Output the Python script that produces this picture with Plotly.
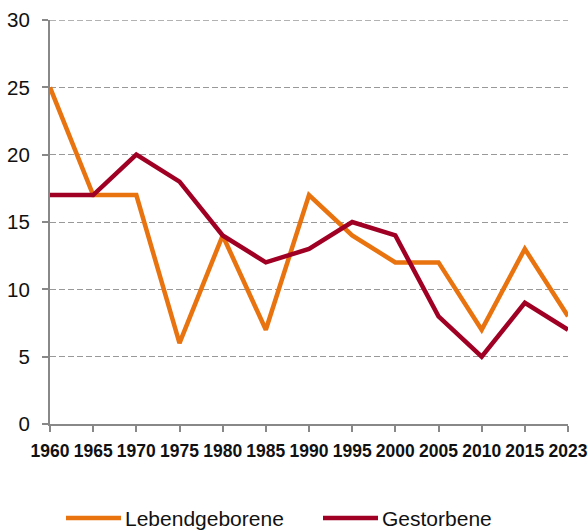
import plotly.graph_objects as go

years = ["1960", "1965", "1970", "1975", "1980", "1985", "1990", "1995", "2000", "2005", "2010", "2015", "2023"]
lebendgeborene = [25, 17, 17, 6, 14, 7, 17, 14, 12, 12, 7, 13, 8]
gestorbene = [17, 17, 20, 18, 14, 12, 13, 15, 14, 8, 5, 9, 7]
y_ticks = [0, 5, 10, 15, 20, 25, 30]

c_orange = "#E8730F"
c_red = "#A00024"
x = list(range(len(years)))

fig = go.Figure()
fig.add_trace(go.Scatter(x=x, y=lebendgeborene, mode="lines", name="Lebendgeborene",
                         line=dict(color=c_orange, width=4.5), showlegend=False))
fig.add_trace(go.Scatter(x=x, y=gestorbene, mode="lines", name="Gestorbene",
                         line=dict(color=c_red, width=4.5), showlegend=False))

fig.update_layout(
    width=588, height=530,
    margin=dict(l=50, r=20, t=20, b=106),
    paper_bgcolor="white", plot_bgcolor="white",
    font=dict(family="Liberation Sans, Arial, sans-serif", color="#111111"),
    xaxis=dict(
        range=[0, len(years) - 1], tickvals=x, ticktext=years,
        showgrid=False, zeroline=False, automargin=False, tickangle=0,
        showline=True, linecolor="#888888", linewidth=2,
        ticks="outside", ticklen=6, tickcolor="#888888", tickwidth=2,
        ticklabelstandoff=4,
        tickfont=dict(family="Liberation Sans Narrow, Arial Narrow, Liberation Sans, Arial", size=17.5, color="#111111", weight="bold"),
    ),
    yaxis=dict(
        range=[0, 30], tickvals=y_ticks, automargin=False,
        showgrid=True, gridcolor="#999999", gridwidth=1.3, griddash="6px,3px",
        zeroline=False,
        showline=True, linecolor="#888888", linewidth=2,
        ticks="outside", ticklen=6, tickcolor="#888888", tickwidth=2,
        ticklabelstandoff=8,
        tickfont=dict(size=20.5, color="#111111"),
    ),
)

# top gridline at the range edge (plotly hides it)
fig.add_shape(type="line", xref="paper", yref="y", x0=0, x1=1, y0=y_ticks[-1], y1=y_ticks[-1],
              line=dict(color="#999999", width=1.3, dash="6px,3px"), layer="below")

# manual legend
legend_items = [("Lebendgeborene", c_orange, 66, 121), ("Gestorbene", c_red, 323, 378)]
for name, col, x0, x1 in legend_items:
    fig.add_shape(type="line", xref="paper", yref="paper",
                  x0=(x0 - 50) / 518, x1=(x1 - 50) / 518,
                  y0=-(518 - 424) / 404, y1=-(518 - 424) / 404,
                  line=dict(color=col, width=4.5))
    fig.add_annotation(text=name, xref="paper", yref="paper",
                       x=(x1 + 2 - 50) / 518, y=-(518 - 424) / 404,
                       xanchor="left", yanchor="middle", showarrow=False,
                       font=dict(size=21, color="#111111"))

fig.write_html("out.html", config={"displayModeBar": False},
               post_script="document.body.style.margin='0';document.body.style.padding='0';")
